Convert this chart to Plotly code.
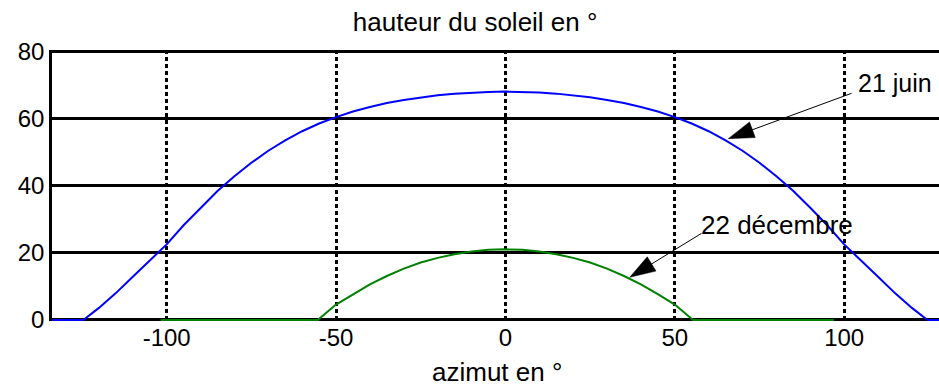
import plotly.graph_objects as go

# ---- data ----
juin_az = [-135, -124.6, -120, -115, -110, -105, -100, -95, -90, -85, -80, -75, -70, -65, -60,
           -55, -50, -45, -40, -35, -30, -25, -20, -15, -10, -5, 0,
           5, 10, 15, 20, 25, 30, 35, 40, 45, 50, 55, 60, 65, 70, 75, 80, 85, 90, 95,
           100, 105, 110, 115, 120, 124.6, 135]
juin_h = [0, 0, 3.6, 8.0, 12.9, 17.8, 22.5, 28.2, 33.4, 38.4, 42.8, 46.8, 50.4, 53.5, 56.2,
          58.5, 60.4, 62.1, 63.4, 64.6, 65.5, 66.3, 66.9, 67.4, 67.7, 67.9, 68.0,
          67.9, 67.7, 67.4, 66.9, 66.3, 65.5, 64.6, 63.4, 62.1, 60.4, 58.5, 56.2, 53.5, 50.4,
          46.8, 42.8, 38.4, 33.4, 28.2, 22.5, 17.8, 12.9, 8.0, 3.6, 0, 0]

dec_az = [-101.7, -55.4, -50, -45, -40, -35, -30, -25, -20, -15, -10, -5, 0,
          5, 10, 15, 20, 25, 30, 35, 40, 45, 50, 55.4, 97]
dec_h = [0, 0, 4.6, 7.7, 10.6, 13.1, 15.3, 17.1, 18.5, 19.6, 20.4, 20.9, 21.05,
         20.9, 20.4, 19.6, 18.5, 17.1, 15.3, 13.1, 10.6, 7.7, 4.6, 0, 0]

x_tickvals = [-100, -50, 0, 50, 100]
x_ticktext = ["-100", "-50", "0", "50", "100"]
y_tickvals = [0, 20, 40, 60, 80]
y_ticktext = ["0", "20", "40", "60", "80"]

# annotation geometry (azimut, hauteur)
juin_label = (103.6, 70.6)
juin_arrow_az = [102.2, 65.8]
juin_arrow_h = [67.5, 54.0]
dec_label = (57.1, 28.2)
dec_arrow_az = [57.9, 36.7]
dec_arrow_h = [25.8, 12.7]

FONT = "Liberation Sans, Arial, sans-serif"

fig = go.Figure()
fig.add_trace(go.Scatter(x=juin_az, y=juin_h, mode="lines",
                         line=dict(color="#0000ff", width=2), hoverinfo="skip",
                         showlegend=False))
fig.add_trace(go.Scatter(x=dec_az, y=dec_h, mode="lines",
                         line=dict(color="#008000", width=2), hoverinfo="skip",
                         showlegend=False))
for ax_, ah_ in [(juin_arrow_az, juin_arrow_h), (dec_arrow_az, dec_arrow_h)]:
    fig.add_trace(go.Scatter(x=ax_, y=ah_, mode="lines+markers",
                             line=dict(color="#000000", width=1),
                             marker=dict(symbol="arrow", size=[0, 27], color="#000000",
                                         opacity=1, angleref="previous",
                                         line=dict(width=0.5, color="#000000")),
                             opacity=1,
                             hoverinfo="skip", showlegend=False, cliponaxis=False))

fig.add_annotation(x=juin_label[0], y=juin_label[1], text="21 juin", showarrow=False,
                   xanchor="left", yanchor="middle", font=dict(family=FONT, size=25, color="black"))
fig.add_annotation(x=dec_label[0], y=dec_label[1], text="22 décembre", showarrow=False,
                   xanchor="left", yanchor="middle", font=dict(family=FONT, size=26, color="black"))
fig.add_annotation(xref="paper", yref="paper", x=0.502, y=-0.19, text="azimut en °",
                   showarrow=False, xanchor="center", yanchor="middle",
                   font=dict(family=FONT, size=26, color="black"))

fig.update_layout(
    width=939, height=388,
    margin=dict(l=52, r=0, t=50, b=67),
    paper_bgcolor="white", plot_bgcolor="white",
    font=dict(family=FONT, size=24, color="black"),
    title=dict(text="hauteur du soleil en °", x=0.506, xref="container", xanchor="center",
               y=1 - 22 / 388, yref="container", yanchor="middle",
               font=dict(family=FONT, size=26, color="black")),
    xaxis=dict(range=[-133.85, 128.0], tickmode="array", tickvals=x_tickvals,
               ticktext=x_ticktext, showgrid=True, gridcolor="black", gridwidth=3,
               griddash="4px,3px", zeroline=False, showline=False, ticks="",
               layer="below traces", tickfont=dict(size=24), fixedrange=True),
    yaxis=dict(range=[-0.30, 80.39], tickmode="array", tickvals=y_tickvals,
               ticktext=y_ticktext, showgrid=True, gridcolor="black", gridwidth=2.7,
               zeroline=False, showline=True, linecolor="black", linewidth=2.7,
               ticks="", layer="below traces", tickfont=dict(size=24), fixedrange=True),
)

fig.write_html("out.html", config={"displayModeBar": False},
               post_script="document.body.style.margin='0px';")
